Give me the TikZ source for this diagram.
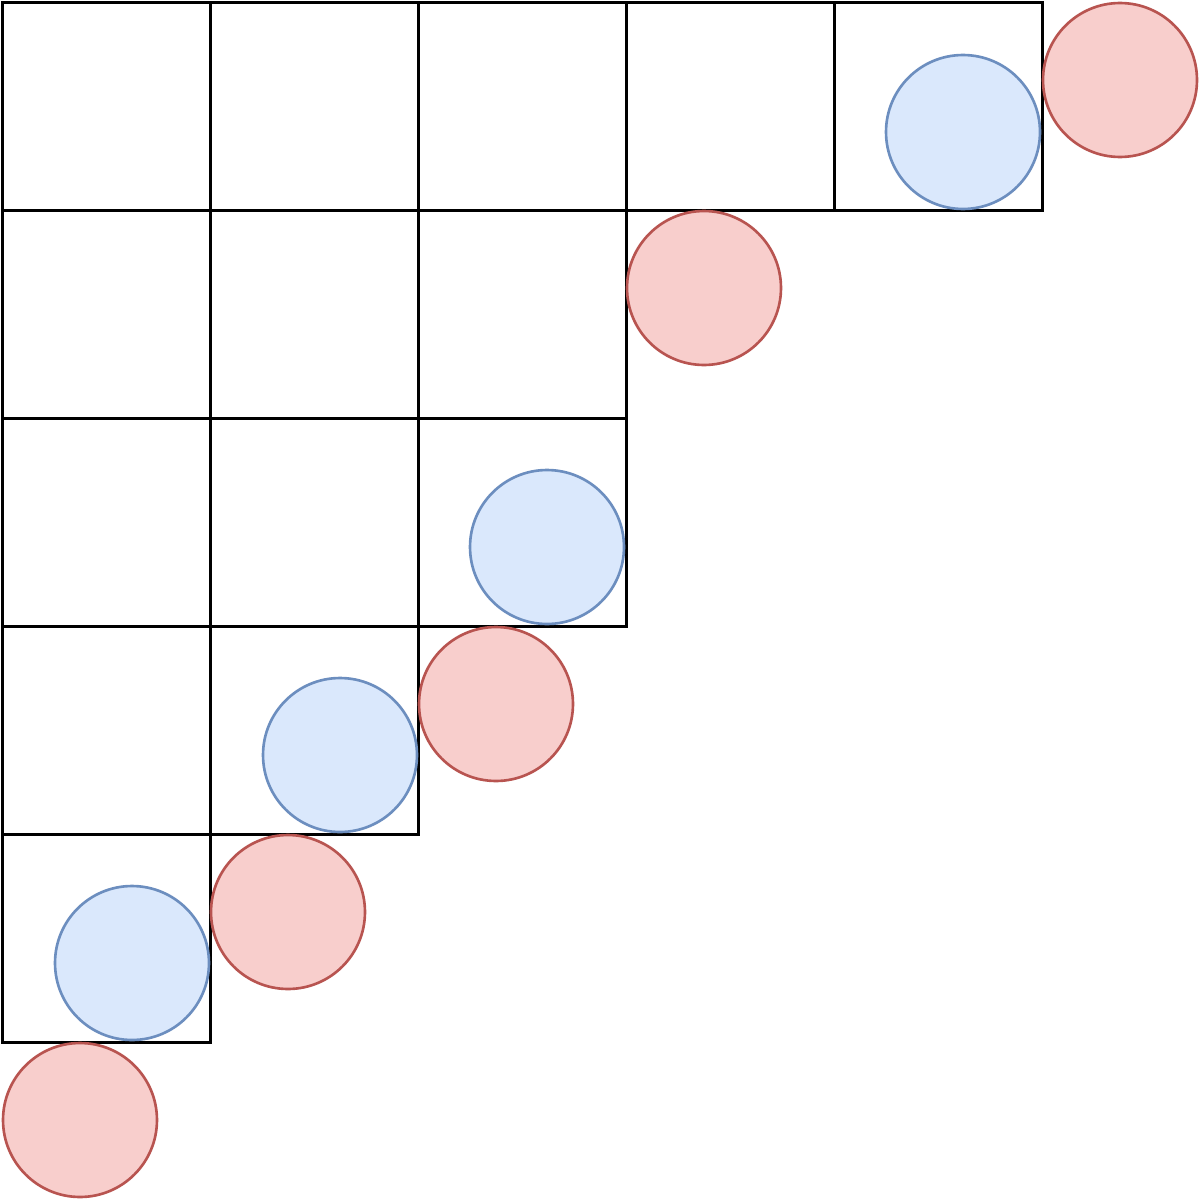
\documentclass[tikz,border=0pt]{standalone}
\begin{document}
\begin{tikzpicture}[x=0.02cm,y=-0.02cm,
  cell/.style={draw=black,line width=2pt,minimum size=4.16cm,inner sep=0pt,outer sep=0pt},
  redc/.style={circle,draw={rgb,255:red,184;green,84;blue,80},fill={rgb,255:red,248;green,206;blue,204},line width=1.5pt,minimum size=3.08cm,inner sep=0pt},
  bluec/.style={circle,draw={rgb,255:red,108;green,142;blue,191},fill={rgb,255:red,218;green,232;blue,252},line width=1.5pt,minimum size=3.08cm,inner sep=0pt}]
\useasboundingbox (0,0) rectangle (1200,1200);
% row 1
\node[cell] (c11) at (106.5,106.5) {};
\node[cell] (c12) at (314.5,106.5) {};
\node[cell] (c13) at (522.5,106.5) {};
\node[cell] (c14) at (730.5,106.5) {};
\node[cell] (c15) at (938.5,106.5) {};
% row 2
\node[cell] (c21) at (106.5,314.5) {};
\node[cell] (c22) at (314.5,314.5) {};
\node[cell] (c23) at (522.5,314.5) {};
% row 3
\node[cell] (c31) at (106.5,522.5) {};
\node[cell] (c32) at (314.5,522.5) {};
\node[cell] (c33) at (522.5,522.5) {};
% row 4
\node[cell] (c41) at (106.5,730.5) {};
\node[cell] (c42) at (314.5,730.5) {};
% row 5
\node[cell] (c51) at (106.5,938.5) {};
% circles
\node[redc] (r1) at (1120,80) {};
\node[bluec] (b1) at (963,132) {};
\node[redc] (r2) at (704,288) {};
\node[bluec] (b2) at (547,547) {};
\node[redc] (r3) at (496,704) {};
\node[bluec] (b3) at (340,755) {};
\node[redc] (r4) at (288,912) {};
\node[bluec] (b4) at (132,963) {};
\node[redc] (r5) at (80,1120) {};
\end{tikzpicture}
\end{document}
